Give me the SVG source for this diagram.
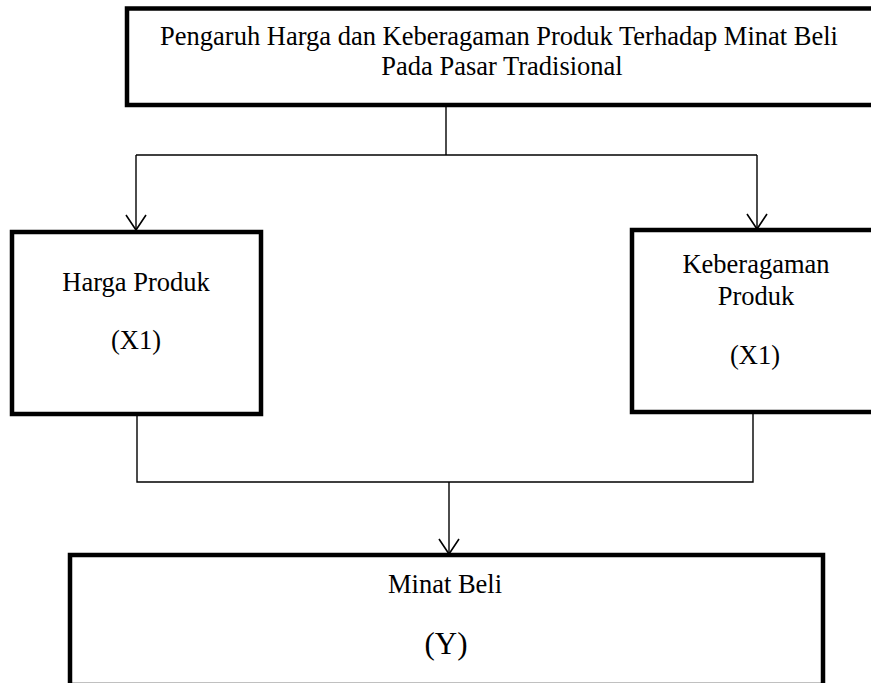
<svg xmlns="http://www.w3.org/2000/svg" width="871" height="683" viewBox="0 0 871 683">
<style>
.box{fill:#fff;stroke:#000;stroke-width:4.5}
.t{font-family:"Liberation Serif","Times New Roman",serif;font-size:26.5px;fill:#000;text-anchor:middle}
.c{fill:none;stroke:#000;stroke-width:1.4}
</style>
<defs>
<marker id="ah" viewBox="-1 -11 18 22" refX="15" refY="0" markerUnits="userSpaceOnUse" markerWidth="18" markerHeight="22" orient="auto">
<path d="M0,-10 L15,0 L0,10" fill="none" stroke="#000" stroke-width="1.6"/>
</marker>
</defs>
<rect width="871" height="683" fill="#fff"/>
<g id="connectors">
<path class="c" d="M446,107 V155"/>
<path class="c" d="M136,155 H757"/>
<path class="c" d="M136,155 V230" marker-end="url(#ah)"/>
<path class="c" d="M757,155 V229" marker-end="url(#ah)"/>
<path class="c" d="M137,416 V482 H753 V414"/>
<path class="c" d="M449,482 V554" marker-end="url(#ah)"/>
</g>
<g id="title">
<rect class="box" x="127" y="8.5" width="760" height="96.5"/>
<text class="t" x="499" y="45">Pengaruh Harga dan Keberagaman Produk Terhadap Minat Beli</text>
<text class="t" x="502" y="75">Pada Pasar Tradisional</text>
</g>
<g id="harga">
<rect class="box" x="12" y="232" width="249" height="182"/>
<text class="t" x="136" y="291">Harga Produk</text>
<text class="t" x="136" y="349">(X1)</text>
</g>
<g id="keberagaman">
<rect class="box" x="632" y="230" width="260" height="182"/>
<text class="t" x="756" y="273">Keberagaman</text>
<text class="t" x="756" y="305">Produk</text>
<text class="t" x="755" y="364">(X1)</text>
</g>
<g id="minat">
<rect class="box" x="70" y="555" width="753" height="130"/>
<text class="t" x="445" y="593">Minat Beli</text>
<text class="t" x="446" y="654" style="font-size:31px">(Y)</text>
</g>
</svg>
